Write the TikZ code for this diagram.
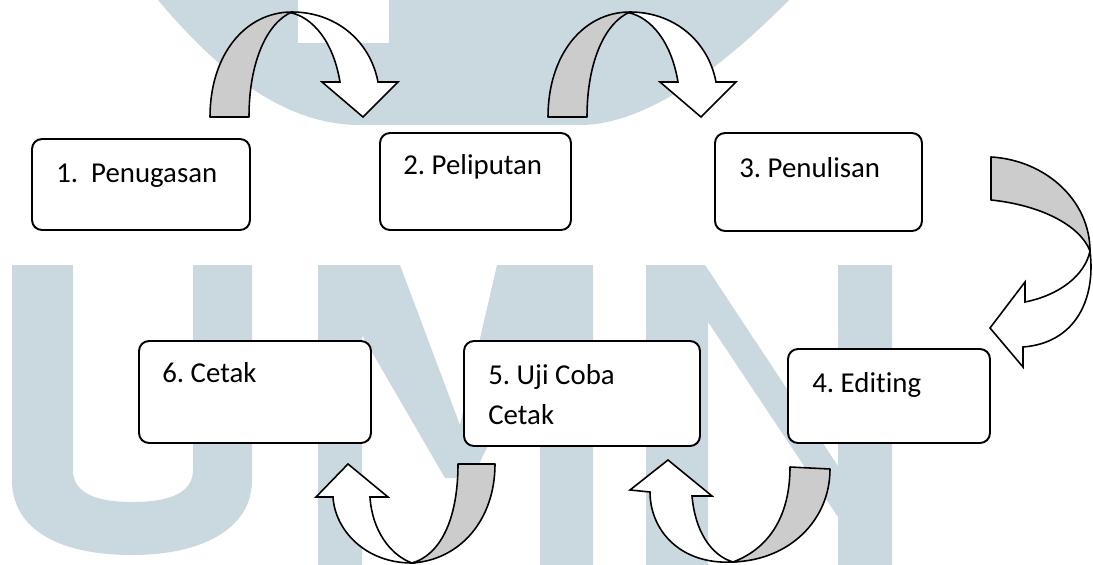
\documentclass[tikz,border=0pt]{standalone}
\usepackage{fontspec}
\setmainfont{Carlito}[Ligatures=NoCommon]
\definecolor{wmblue}{RGB}{202,217,223}
\definecolor{backgray}{RGB}{204,204,204}
\begin{document}
\frenchspacing
\begin{tikzpicture}[x=0.02cm,y=-0.02cm,
  box/.style={draw=black, line width=1.1pt, rounded corners=0.2cm, fill=white, inner sep=0pt},
  lbl/.style={anchor=base west, inner sep=0pt, font=\fontsize{16.4}{20}\selectfont},
  back/.style={draw=black, line width=0.9pt, fill=backgray, line join=round},
  front/.style={draw=black, line width=0.9pt, fill=white, line join=miter},
  wm/.style={fill=wmblue, draw=none}]
\useasboundingbox (0,0) rectangle (1093,565);
% watermark
\fill[wm] (158,0) .. controls (225,80) and (290,125) .. (360,125) -- (580,125) .. controls (650,125) and (730,60) .. (789,0) -- cycle;
\fill[white] (298,0) rectangle (389,43);
\fill[wm] (12,265) -- (73,265) -- (73,470) .. controls (73,495) and (100,502) .. (132,502) .. controls (165,502) and (193,495) .. (193,470) -- (193,265) -- (252,265) -- (252,480) .. controls (252,530) and (200,555) .. (132,555) .. controls (60,555) and (12,530) .. (12,480) -- cycle;
\fill[wm] (318,265) -- (400,265) -- (460,425) -- (497,265) -- (593,265) -- (593,565) -- (540,565) -- (540,340) -- (472,478) -- (445,478) -- (362,335) -- (362,565) -- (318,565) -- cycle;
\fill[wm] (646,265) -- (705,265) -- (838,466) -- (838,265) -- (892,265) -- (892,565) -- (838,565) -- (838,517) -- (708,322) -- (708,565) -- (646,565) -- cycle;
% boxes
\node[box, minimum width=4.36cm, minimum height=1.82cm] (b1) at (141,184.5) {};
\node[box, minimum width=3.82cm, minimum height=1.94cm] (b2) at (475.5,181.5) {};
\node[box, minimum width=4.14cm, minimum height=1.96cm] (b3) at (818.5,182) {};
\node[box, minimum width=4.04cm, minimum height=1.88cm] (b4) at (889,396) {};
\node[box, minimum width=4.72cm, minimum height=2.10cm] (b5) at (582,393.5) {};
\node[box, minimum width=4.64cm, minimum height=2.04cm] (b6) at (255,392) {};
\node[lbl] (t1) at (56,182) {1.\ \ Penugasan};
\node[lbl] (t2) at (403,174) {2. Peliputan};
\node[lbl] (t3) at (739,177) {3. Penulisan};
\node[lbl] (t4) at (812,392) {4. Editing};
\node[lbl] (t5) at (488,384) {5. Uji Coba};
\node[lbl] (t5b) at (488,424) {Cetak};
\node[lbl] (t6) at (162,382) {6. Cetak};
% arrow 1 -> 2
\draw[back] (210,117) .. controls (210,55) and (245,12) .. (292,12) .. controls (268,22) and (249,60) .. (249,117) -- cycle;
\draw[front] (292,12) .. controls (335,12) and (370,40) .. (378,82) -- (398,82) -- (363,117) -- (322,82) -- (340,82) .. controls (333,40) and (312,18) .. (292,13) -- cycle;
% arrow 2 -> 3
\begin{scope}[shift={(338,0)}]
\draw[back] (210,117) .. controls (210,55) and (245,12) .. (292,12) .. controls (268,22) and (249,60) .. (249,117) -- cycle;
\draw[front] (292,12) .. controls (335,12) and (370,40) .. (378,82) -- (398,82) -- (363,117) -- (322,82) -- (340,82) .. controls (333,40) and (312,18) .. (292,13) -- cycle;
\end{scope}
% arrow 3 -> 4
\draw[back] (991,157) .. controls (1045,160) and (1090,200) .. (1090,251) .. controls (1080,225) and (1040,205) .. (991,200) -- cycle;
\draw[front] (1090,251) .. controls (1096,300) and (1075,343) .. (1023,347) -- (1023,367) -- (990,328) -- (1025,282) -- (1025,302) .. controls (1060,295) and (1085,275) .. (1090,251) -- cycle;
% arrow 4 -> 5
\draw[back] (790,467) -- (830,469) .. controls (830,520) and (790,560) .. (733,562) .. controls (770,548) and (790,515) .. (790,467) -- cycle;
\draw[front] (733,562) .. controls (680,565) and (650,530) .. (650,492) -- (630,490) -- (668,460) -- (712,496) -- (692,496) .. controls (695,530) and (710,555) .. (733,562) -- cycle;
% arrow 5 -> 6
\draw[back] (458,464) -- (495,464) .. controls (495,520) and (460,560) .. (412,563) .. controls (440,555) and (458,520) .. (458,464) -- cycle;
\draw[front] (412,563) .. controls (365,563) and (335,530) .. (333,497) -- (316,497) -- (348,464) -- (388,497) -- (370,497) .. controls (372,530) and (390,555) .. (412,563) -- cycle;
\end{tikzpicture}
\end{document}
